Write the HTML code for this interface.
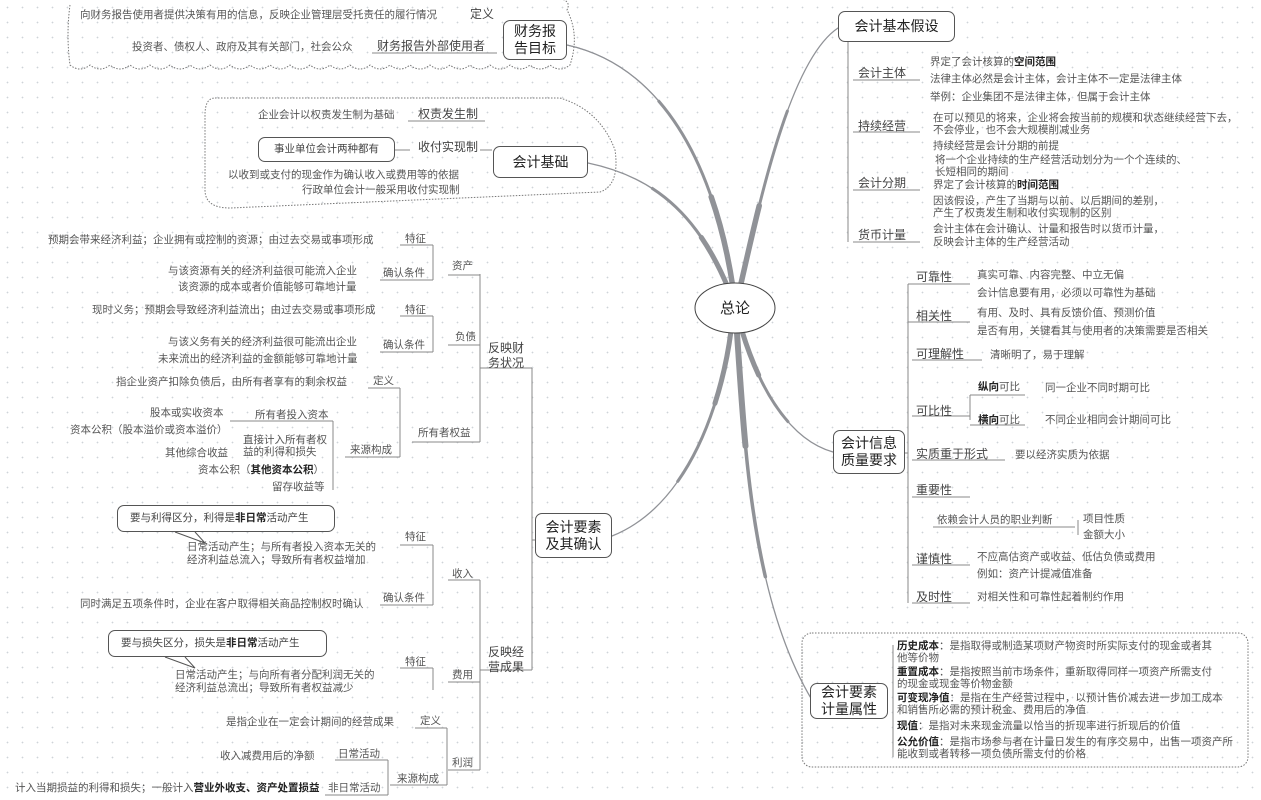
<!DOCTYPE html>
<html><head><meta charset="utf-8">
<style>
html,body{margin:0;padding:0}
body{width:1261px;height:800px;position:relative;overflow:hidden;background:#fff;
background-image:radial-gradient(circle,#cfd3d8 0.7px,transparent 1px);background-size:15px 15px;
font-family:"Liberation Sans","Noto Sans CJK SC",sans-serif}
.t{position:absolute;white-space:nowrap;font-size:10.5px;line-height:12px;color:#555}
.m{position:absolute;white-space:nowrap;font-size:12px;line-height:14px;color:#444}
.b{position:absolute;border:1px solid #555;border-radius:7px;background:#fff;color:#222;font-size:14px;line-height:17px;text-align:center;box-sizing:border-box;display:flex;align-items:center;justify-content:center}
b{font-weight:bold;color:#222}
svg{position:absolute;left:0;top:0}
</style></head><body>
<svg width="1261" height="800">
<g fill="none" stroke="#777" stroke-width="1" stroke-dasharray="1.5,1.5">
<path d="M70,5 Q66,35 70,65 q10,8 20,0 q10,8 20,0 q10,8 20,0 q10,8 20,0 q10,8 20,0 q10,8 20,0 q10,8 20,0 q10,8 20,0 q10,8 20,0 q10,8 20,0 q10,8 20,0 q10,8 20,0 q10,8 20,0 q10,8 20,0 q10,8 20,0 q10,8 20,0 q10,8 20,0 q10,8 20,0 q10,8 20,0 q10,8 20,0 q10,8 20,0 q10,8 20,0 q10,8 20,0 q10,8 20,0 q10,8 20,0 q10,-30 -3,-55 q5,-10 -10,-12 q-30,-5 -50,-5"/>
<path d="M215,98 L560,98 Q600,110 615,150 Q620,185 600,192 L230,208 Q205,208 205,190 L205,115 Q205,98 215,98Z"/>
<rect x="802" y="633" width="446" height="134" rx="10"/>
</g>
<g fill="none" stroke="#909297" stroke-linecap="round">
<g id="br1"><path d="M733,288 C720,200 680,70 567,45"/></g>
</g>
<g fill="none" stroke="#909297" stroke-linecap="round" id="brs">
<path pathLength="100" stroke-width="1.3" d="M733,288 C720,200 680,70 567,45"/>
<path pathLength="100" stroke-width="3" stroke-dasharray="65 200" d="M733,288 C720,200 680,70 567,45"/>
<path pathLength="100" stroke-width="5.5" stroke-dasharray="30 200" d="M733,288 C720,200 680,70 567,45"/>
<path pathLength="100" stroke-width="1.3" d="M729,290 C700,220 660,178 588,163"/>
<path pathLength="100" stroke-width="3" stroke-dasharray="65 200" d="M729,290 C700,220 660,178 588,163"/>
<path pathLength="100" stroke-width="5" stroke-dasharray="30 200" d="M729,290 C700,220 660,178 588,163"/>
<path pathLength="100" stroke-width="1.3" d="M740,288 C760,200 790,60 838,28"/>
<path pathLength="100" stroke-width="3" stroke-dasharray="65 200" d="M740,288 C760,200 790,60 838,28"/>
<path pathLength="100" stroke-width="5.5" stroke-dasharray="30 200" d="M740,288 C760,200 790,60 838,28"/>
<path pathLength="100" stroke-width="1.3" d="M731,331 C722,400 690,505 612,536"/>
<path pathLength="100" stroke-width="3" stroke-dasharray="65 200" d="M731,331 C722,400 690,505 612,536"/>
<path pathLength="100" stroke-width="5" stroke-dasharray="30 200" d="M731,331 C722,400 690,505 612,536"/>
<path pathLength="100" stroke-width="1.3" d="M742,331 C760,390 790,440 833,452"/>
<path pathLength="100" stroke-width="3" stroke-dasharray="65 200" d="M742,331 C760,390 790,440 833,452"/>
<path pathLength="100" stroke-width="5" stroke-dasharray="30 200" d="M742,331 C760,390 790,440 833,452"/>
<path pathLength="100" stroke-width="1.3" d="M737,333 C745,450 752,600 812,700"/>
<path pathLength="100" stroke-width="3.5" stroke-dasharray="65 200" d="M737,333 C745,450 752,600 812,700"/>
<path pathLength="100" stroke-width="6" stroke-dasharray="30 200" d="M737,333 C745,450 752,600 812,700"/>
</g>
<g fill="none" stroke="#888" stroke-width="1">
<path d="M372,53H497M408,121H485M395,150H410M480,150H492"/>
<path d="M480,368H532M532,368V670M532,540H535M480,274V442M448,275H480M448,345H480M412,442H480"/>
<path d="M433,245V280M400,245H433M380,280H433M433,316V352M400,316H433M380,352H433"/>
<path d="M400,388V457M368,388H400M345,457H400M333,421V490M230,421H333"/>
<path d="M480,670H532M480,580V770M448,580H480M448,682H480M448,770H480"/>
<path d="M433,545V605M400,545H433M380,605H433M433,668V690M400,668H433"/>
<path d="M447,728V785M415,728H447M390,785H447M388,760V795M335,760H388M325,795H388"/>
<path d="M848,42V242M853,80H920M853,132H920M853,190H920M853,242H920"/>
<path d="M908,284V603M908,453H905M908,284H970M908,322H970M912,360H982M912,416H970M912,460H1005M912,497H970M933,527H1075M912,565H970M912,603H970"/>
<path d="M970,395V420M970,395H1025M970,425H1025M1078,520V535M893,645V757"/>
</g>
<ellipse cx="735" cy="308" rx="40" ry="25" fill="#fff" stroke="#444"/>
<path d="M175,532 L205,543 L195,532" fill="#fff" stroke="#555"/>
<path d="M165,657 L195,668 L185,657" fill="#fff" stroke="#555"/>
</svg>
<div class="m" style="left:720px;top:300px;font-size:15px;line-height:17px;color:#222">总论</div>

<div class="t" style="left:80px;top:9px">向财务报告使用者提供决策有用的信息，反映企业管理层受托责任的履行情况</div>
<div class="m" style="left:470px;top:7px">定义</div>
<div class="t" style="left:132px;top:41px">投资者、债权人、政府及其有关部门，社会公众</div>
<div class="m" style="left:377px;top:39px">财务报告外部使用者</div>
<div class="b" style="left:503px;top:20px;width:64px;height:40px">财务报<br>告目标</div>

<div class="t" style="left:258px;top:109px">企业会计以权责发生制为基础</div>
<div class="m" style="left:418px;top:107px">权责发生制</div>
<div class="b" style="left:258px;top:137px;width:137px;height:25px;font-size:10.5px;color:#444">事业单位会计两种都有</div>
<div class="m" style="left:418px;top:140px">收付实现制</div>
<div class="t" style="left:228px;top:169px">以收到或支付的现金作为确认收入或费用等的依据</div>
<div class="t" style="left:302px;top:184px">行政单位会计一般采用收付实现制</div>
<div class="b" style="left:493px;top:146px;width:95px;height:32px">会计基础</div>

<div class="t" style="left:48px;top:234px">预期会带来经济利益；企业拥有或控制的资源；由过去交易或事项形成</div>
<div class="t" style="left:405px;top:233px">特征</div>
<div class="t" style="left:168px;top:265px">与该资源有关的经济利益很可能流入企业</div>
<div class="t" style="left:383px;top:267px">确认条件</div>
<div class="t" style="left:178px;top:281px">该资源的成本或者价值能够可靠地计量</div>
<div class="t" style="left:452px;top:260px">资产</div>
<div class="t" style="left:92px;top:304px">现时义务；预期会导致经济利益流出；由过去交易或事项形成</div>
<div class="t" style="left:405px;top:304px">特征</div>
<div class="t" style="left:455px;top:331px">负债</div>
<div class="t" style="left:168px;top:336px">与该义务有关的经济利益很可能流出企业</div>
<div class="t" style="left:383px;top:339px">确认条件</div>
<div class="t" style="left:158px;top:353px">未来流出的经济利益的金额能够可靠地计量</div>
<div class="m" style="left:488px;top:341px;line-height:15px">反映财<br>务状况</div>
<div class="t" style="left:116px;top:376px">指企业资产扣除负债后，由所有者享有的剩余权益</div>
<div class="t" style="left:373px;top:375px">定义</div>
<div class="t" style="left:150px;top:407px">股本或实收资本</div>
<div class="t" style="left:255px;top:409px">所有者投入资本</div>
<div class="t" style="left:70px;top:424px">资本公积（股本溢价或资本溢价）</div>
<div class="t" style="left:418px;top:427px">所有者权益</div>
<div class="t" style="left:243px;top:434px;line-height:12px">直接计入所有者权<br>益的利得和损失</div>
<div class="t" style="left:350px;top:444px">来源构成</div>
<div class="t" style="left:165px;top:447px">其他综合收益</div>
<div class="t" style="left:198px;top:464px">资本公积（<b>其他资本公积</b>）</div>
<div class="t" style="left:272px;top:481px">留存收益等</div>

<div class="b" style="left:117px;top:505px;width:218px;height:27px;font-size:10.5px;color:#444;justify-content:flex-start;padding-left:12px">要与利得区分，利得是<b>非日常</b>活动产生</div>
<div class="t" style="left:187px;top:541px;line-height:13px">日常活动产生；与所有者投入资本无关的<br>经济利益总流入；导致所有者权益增加</div>
<div class="t" style="left:405px;top:531px">特征</div>
<div class="t" style="left:452px;top:568px">收入</div>
<div class="t" style="left:80px;top:598px">同时满足五项条件时，企业在客户取得相关商品控制权时确认</div>
<div class="t" style="left:383px;top:592px">确认条件</div>
<div class="b" style="left:108px;top:630px;width:219px;height:27px;font-size:10.5px;color:#444;justify-content:flex-start;padding-left:12px">要与损失区分，损失是<b>非日常</b>活动产生</div>
<div class="t" style="left:175px;top:669px;line-height:13px">日常活动产生；与向所有者分配利润无关的<br>经济利益总流出；导致所有者权益减少</div>
<div class="t" style="left:405px;top:656px">特征</div>
<div class="t" style="left:452px;top:669px">费用</div>
<div class="m" style="left:488px;top:645px;line-height:15px">反映经<br>营成果</div>
<div class="t" style="left:226px;top:716px">是指企业在一定会计期间的经营成果</div>
<div class="t" style="left:420px;top:715px">定义</div>
<div class="t" style="left:220px;top:750px">收入减费用后的净额</div>
<div class="t" style="left:338px;top:748px">日常活动</div>
<div class="t" style="left:452px;top:757px">利润</div>
<div class="t" style="left:397px;top:773px">来源构成</div>
<div class="t" style="left:15px;top:782px">计入当期损益的利得和损失；一般计入<b>营业外收支、资产处置损益</b></div>
<div class="t" style="left:328px;top:782px">非日常活动</div>
<div class="b" style="left:535px;top:513px;width:77px;height:45px">会计要素<br>及其确认</div>

<div class="b" style="left:838px;top:11px;width:117px;height:31px">会计基本假设</div>
<div class="m" style="left:858px;top:66px">会计主体</div>
<div class="t" style="left:930px;top:56px">界定了会计核算的<b>空间范围</b></div>
<div class="t" style="left:930px;top:73px">法律主体必然是会计主体，会计主体不一定是法律主体</div>
<div class="t" style="left:930px;top:91px">举例：企业集团不是法律主体，但属于会计主体</div>
<div class="m" style="left:858px;top:119px">持续经营</div>
<div class="t" style="left:933px;top:112px;line-height:12px">在可以预见的将来，企业将会按当前的规模和状态继续经营下去，<br>不会停业，也不会大规模削减业务</div>
<div class="t" style="left:933px;top:140px">持续经营是会计分期的前提</div>
<div class="t" style="left:935px;top:154px;line-height:12px">将一个企业持续的生产经营活动划分为一个个连续的、<br>长短相同的期间</div>
<div class="m" style="left:858px;top:176px">会计分期</div>
<div class="t" style="left:933px;top:179px">界定了会计核算的<b>时间范围</b></div>
<div class="t" style="left:933px;top:195px;line-height:12px">因该假设，产生了当期与以前、以后期间的差别，<br>产生了权责发生制和收付实现制的区别</div>
<div class="m" style="left:858px;top:228px">货币计量</div>
<div class="t" style="left:933px;top:223px;line-height:13px">会计主体在会计确认、计量和报告时以货币计量，<br>反映会计主体的生产经营活动</div>

<div class="m" style="left:916px;top:270px">可靠性</div>
<div class="t" style="left:977px;top:269px">真实可靠、内容完整、中立无偏</div>
<div class="t" style="left:977px;top:287px">会计信息要有用，必须以可靠性为基础</div>
<div class="m" style="left:916px;top:309px">相关性</div>
<div class="t" style="left:977px;top:307px">有用、及时、具有反馈价值、预测价值</div>
<div class="t" style="left:977px;top:325px">是否有用，关键看其与使用者的决策需要是否相关</div>
<div class="m" style="left:916px;top:347px">可理解性</div>
<div class="t" style="left:990px;top:349px">清晰明了，易于理解</div>
<div class="t" style="left:978px;top:381px"><b>纵向</b>可比</div>
<div class="t" style="left:1045px;top:382px">同一企业不同时期可比</div>
<div class="m" style="left:916px;top:404px">可比性</div>
<div class="t" style="left:978px;top:414px"><b>横向</b>可比</div>
<div class="t" style="left:1045px;top:414px">不同企业相同会计期间可比</div>
<div class="b" style="left:833px;top:430px;width:72px;height:44px">会计信息<br>质量要求</div>
<div class="m" style="left:916px;top:447px">实质重于形式</div>
<div class="t" style="left:1015px;top:449px">要以经济实质为依据</div>
<div class="m" style="left:916px;top:483px">重要性</div>
<div class="t" style="left:937px;top:514px">依赖会计人员的职业判断</div>
<div class="t" style="left:1083px;top:513px">项目性质</div>
<div class="t" style="left:1083px;top:529px">金额大小</div>
<div class="m" style="left:916px;top:552px">谨慎性</div>
<div class="t" style="left:977px;top:551px">不应高估资产或收益、低估负债或费用</div>
<div class="t" style="left:977px;top:568px">例如：资产计提减值准备</div>
<div class="m" style="left:916px;top:590px">及时性</div>
<div class="t" style="left:977px;top:591px">对相关性和可靠性起着制约作用</div>

<div class="b" style="left:810px;top:683px;width:78px;height:36px">会计要素<br>计量属性</div>
<div class="t" style="left:897px;top:641px;line-height:11.5px"><b>历史成本</b>：是指取得或制造某项财产物资时所实际支付的现金或者其<br>他等价物</div>
<div class="t" style="left:897px;top:667px;line-height:11.5px"><b>重置成本</b>：是指按照当前市场条件，重新取得同样一项资产所需支付<br>的现金或现金等价物金额</div>
<div class="t" style="left:897px;top:693px;line-height:11.5px"><b>可变现净值</b>：是指在生产经营过程中，以预计售价减去进一步加工成本<br>和销售所必需的预计税金、费用后的净值</div>
<div class="t" style="left:897px;top:720px"><b>现值</b>：是指对未来现金流量以恰当的折现率进行折现后的价值</div>
<div class="t" style="left:897px;top:737px;line-height:11.5px"><b>公允价值</b>：是指市场参与者在计量日发生的有序交易中，出售一项资产所<br>能收到或者转移一项负债所需支付的价格</div>
</body></html>
